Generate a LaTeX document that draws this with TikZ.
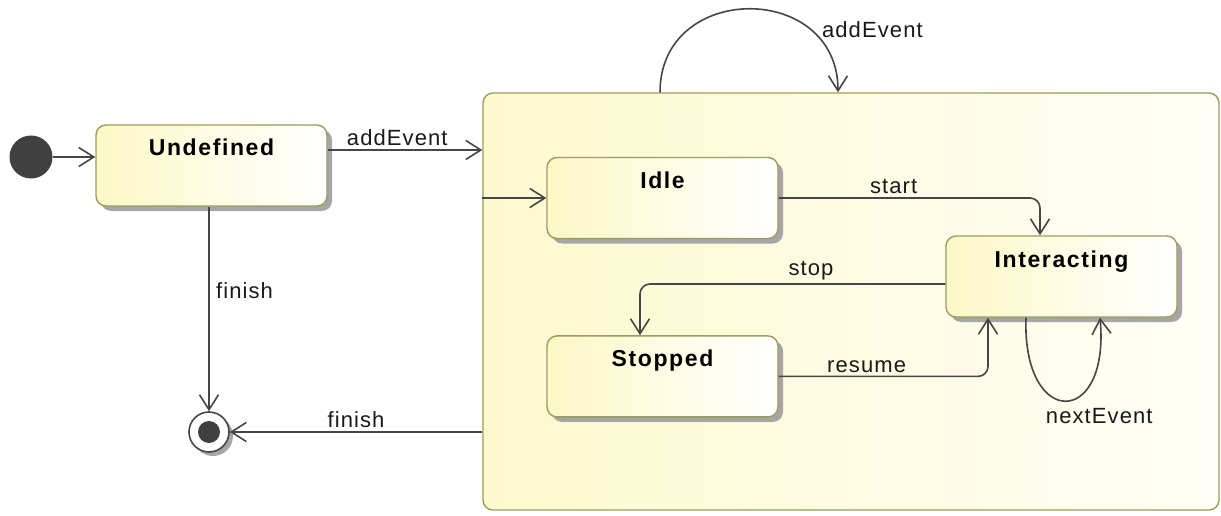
\documentclass[tikz,border=0pt]{standalone}
\usepackage{fontspec}
\setmainfont{Liberation Sans}
\newfontfamily\lblfont[LetterSpace=5]{Liberation Sans}
\newfontfamily\statefont[LetterSpace=7]{Liberation Sans}
\usetikzlibrary{positioning,arrows.meta,shadows}
\definecolor{umlLine}{HTML}{464646}
\definecolor{umlEdge}{HTML}{9C9C5E}
\definecolor{umlFill}{HTML}{FCF8C6}
\definecolor{umlDot}{HTML}{404040}

\begin{document}
\begin{tikzpicture}[x=1pt, y=-1pt,
    lbl/.style={font=\lblfont\fontsize{22}{26}\selectfont, text=black!90},
    state/.style={draw=umlEdge, line width=1.4pt, rounded corners=10pt,
      left color=umlFill, right color=white, minimum width=231pt,
      inner xsep=0pt, inner ysep=0pt, text height=31pt, text depth=50pt,
      font=\statefont\fontsize{23}{27}\selectfont\bfseries,
      drop shadow={shadow xshift=5pt, shadow yshift=-5pt, fill=black!35, opacity=1}},
    composite/.style={draw=umlEdge, line width=1.4pt, rounded corners=10pt,
      left color=umlFill!85!white, right color=umlFill!15!white,
      minimum width=736pt, minimum height=417pt, inner sep=0pt},
    trans/.style={draw=umlLine, line width=1.6pt,
      -{Straight Barb[length=15pt,width=19pt]}},
  ]
  \useasboundingbox (0,0) rectangle (1221,516);

  % states
  \node[circle, fill=umlDot, minimum size=43pt, inner sep=0pt] (init) at (31,157) {};
  \node[state] (undef) at (211.5,165.5) {Undefined};
  \node[composite] (busy) at (851,301.5) {};
  \node[state] (idle) at (662.5,198) {Idle};
  \node[state, below=96pt of idle] (stopped) {Stopped};
  \node[state] (inter) at (1061.5,276.5) {Interacting};
  \node[circle, draw=umlLine, line width=1.6pt, fill=white, minimum size=40pt,
        inner sep=0pt, drop shadow={shadow xshift=4pt, shadow yshift=-4pt, fill=black!35, opacity=1}]
    (final) at (209,432) {};
  \node[circle, fill=umlDot, minimum size=22pt, inner sep=0pt] (finaldot) at (final) {};

  % transitions
  \coordinate (ae) at ([yshift=15.5pt]undef.east);
  \draw[trans] (init) -- (init -| undef.west);
  \draw[trans] (ae) -- node[lbl, pos=0.45, above] {addEvent} (ae -| busy.west);
  \draw[trans] (busy.west |- idle) -- (idle);
  \draw[trans] ([xshift=-191pt]busy.north) .. controls +(0,-111) and +(0,-111) ..
    node[lbl, pos=0.72, anchor=west, xshift=14pt, yshift=-4pt] {addEvent} ([xshift=-13pt]busy.north);
  \draw[trans, rounded corners=10pt] (idle) -| node[lbl, pos=0.22, above] {start}
    ([xshift=-21.5pt]inter.north);
  \draw[trans, rounded corners=10pt] ([yshift=-7.5pt]inter.west) -| node[lbl, pos=0.22, above] {stop}
    ([xshift=-22.5pt]stopped.north);
  \draw[trans, rounded corners=10pt] (stopped) -| node[lbl, pos=0.21, above] {resume}
    ([xshift=-73.5pt]inter.south);
  \draw[trans] ([xshift=-35.5pt]inter.south) .. controls +(-4,111) and +(10,111) ..
    node[lbl, pos=0.5, anchor=north, xshift=34pt, yshift=-3pt] {nextEvent} ([xshift=38.5pt]inter.south);
  \draw[trans] (undef.south -| final) -- node[lbl, pos=0.41, right, xshift=3pt] {finish} (final);
  \draw[trans] (busy.west |- final) -- node[lbl, above] {finish} (final);
\end{tikzpicture}
\end{document}
